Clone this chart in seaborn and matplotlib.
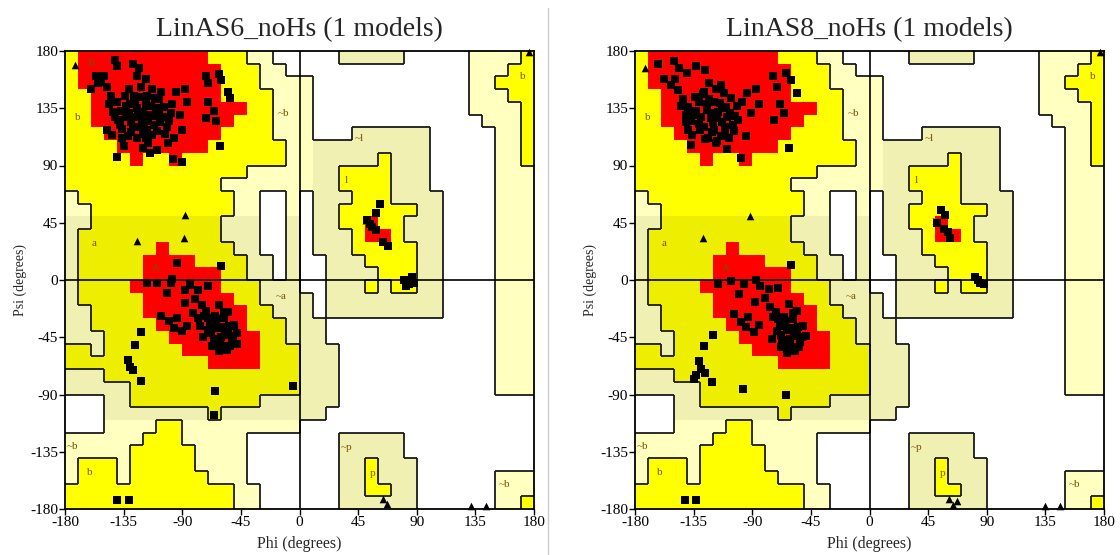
import numpy as np
import matplotlib
matplotlib.use("Agg")
import matplotlib.pyplot as plt
import seaborn as sns
from matplotlib.colors import ListedColormap
from matplotlib.collections import LineCollection
from matplotlib.lines import Line2D

sns.set_style("white")
plt.rcParams["font.family"] = ["Liberation Serif", "DejaVu Serif"]
plt.rcParams["axes.unicode_minus"] = False

titles = ["LinAS6_noHs (1 models)", "LinAS8_noHs (1 models)"]
ticks = [-180, -135, -90, -45, 0, 45, 90, 135, 180]

# region map in 10 degree cells: rows run from psi=180 down, columns from phi=-180
# . disallowed, p/P generous, y/Y allowed, r core (upper case = darker tint)
region_rows = [
    "yrrrrrrrrrryyypp.." "...PPPPP.....ppppy",
    "yrrrrrrrrrrryyypp." ".............pppyy",
    "yrrrrrrrrrrryyyppp" "p............ppyyy",
    "yyrrrrrrrrrryyyypp" "p............pppyy",
    "yyrrrrrrrrrrrryypp" "p............ppppy",
    "yyrrrrrrrrrrryyypp" "p.............pppy",
    "yyyrrrrrrrrryyyypp" "p...PPPPPP.....ppy",
    "yyyyrrrrrrryyyyyyp" "pPPPPPPPPP.....ppy",
    "yyyyyryyryyyyyyyyp" "pPPPPPyPPP.....ppy",
    "yyyyyyyyyyyyyypppp" "pPPyyyyPPP.....ppp",
    "yyyyyyyyyyyypppppp" "pPPyyyyPPP.....ppp",
    "pyyyyyyyyyyyypp..p" ".PPPyyyPPPP....ppp",
    "ppyyyyyyyyyyypp..p" ".PPyyyyyyPP....ppp",
    "PPYYYYYYYYYYPPP..P" ".PPyyryyPPP....ppp",
    "PYYYYYYYYYYYPPP..P" ".PPPyrryPPP....ppp",
    "PYYYYYYrYYYYYPP..P" ".PPPyyyyyPP....ppp",
    "PYYYYYrrrrYYYYPP.P" "..PPPyyyyPP....ppp",
    "PYYYYYrrrrrrYYPP.P" "..PPPPyyyPP....ppp",
    "PYYYYrrrrrrrYYYPPP" "..PPPyPyyPP....ppp",
    "PYYYYYrrrrrrrYYPPP" "P.PPPPPPPPP....ppp",
    "PPYYYYrrrrrrrrYYPP" "P.PPPPPPPPP....ppp",
    "PPYYYYYrrrrrrrYYYP" "PP.............ppp",
    "PPPYYYYYrrrrrrrYYP" "PP.............ppp",
    "YYPYYYYYYrrrrrrYYY" "PPP............ppp",
    "YYYYYYYYYYYrrrrYYY" "PPP............ppp",
    "PPPYYYYYYYYYYYYYYY" "PPP............ppp",
    "PPPPPYYYYYYYYYYYYY" "PPP............ppp",
    "...PPYYYYYYYYYYPPP" "PPP...............",
    "...PPPPPPPPYPPPPPP" "PP................",
    "...ppppyyppppppppp" "..................",
    "ppppppyyyppppp...." "...PPPPP..........",
    "pppppyyyyypppp...." "...PPPPP..........",
    "pyyypyyyyypppp...." "...PPyPPP.........",
    "pyyypyyyyyyppp...." "...PPyPPP......ppp",
    "yyyyyyyyyyyyypp..." "...PPyyPP......ppp",
    "yyyyyyyyyyyyypp..." "...PPPPPP......ppy",
]
region_colors = ["#FFFFFF", "#FFFFC0", "#F0F0B2", "#FFFF00", "#EEEE00", "#FF0000"]
region_codes = ".pPyYr"
region_level = [0, 1, 1, 2, 2, 3]

# region letters: text, phi, psi
label_text = ["B", "b", "~b", "A", "a", "~a", "L", "l", "~l", "~p", "p", "~b", "b", "~b", "b"]
label_phi = [-160, -170, -12, -110, -158, -14, 50, 36, 46, 36, 56, -174, -161, 157, 171]
label_psi = [170, 128, 131, 9, 29, -13, 45, 78, 111, -132, -152, -131, -151, -161, 160]

# residues (squares) and glycines (triangles), panel 1
phi1 = [-142, -140, -128, -123, -156, -152, -148, -160, -145, -140, -137, -133, -130, -127,
        -124, -121, -118, -115, -112, -110, -108, -105, -128, -125, -120, -116, -132, -138,
        -142, -117, -113, -122, -100, -98, -95, -92, -90, -96, -103, -135, -140, -109, -97,
        -90, -72, -70, -62, -60, -55, -53, -70, -66, -72, -64, -88, -86, -61, -150, -155,
        -148, -125, -118,
        -146, -143, -139, -136, -134, -131, -129, -126, -123, -120, -119, -116, -114, -111,
        -109, -107, -104, -102, -99, -133, -127, -122, -118, -113, -111, -106, -131, -136,
        -144, -120, -115, -101, -125, -117, -108, -129,
        -117, -109, -99, -84, -102, -88, -80, -75, -72, -70, -66, -62, -68, -60, -55, -52,
        -57, -63, -50, -48, -65, -58, -106, -100, -94, -96, -90, -86, -122, -126, -132,
        -130, -128, -122, -65, -66, -5, -94, -60, -98, -88, -78, -70, -62, -55,
        -69, -64, -60, -57, -61, -66, -70, -54, -51, -56, -62, -67, -73, -58, -53, -48,
        -74, -78, -82, -76,
        62, 59, 52, 56, 59, 54, 64, 68, 80, 84, 88, 86, 82, -140, -131]
psi1 = [173, 168, 170, 167, 160, 156, 152, 150, 145, 140, 133, 128, 138, 145,
        132, 126, 138, 130, 122, 135, 142, 128, 120, 112, 115, 108, 113, 122,
        128, 145, 150, 152, 125, 138, 148, 130, 118, 112, 115, 105, 97, 102, 95,
        93, 160, 155, 162, 157, 148, 143, 140, 133, 127, 125, 150, 140, 105, 160, 155,
        118, 160, 158,
        138, 132, 126, 119, 145, 131, 124, 139, 144, 132, 121, 125, 137, 129,
        117, 124, 136, 120, 131, 137, 128, 120, 112, 114, 143, 148, 150, 112,
        114, 104, 100, 108, 135, 118, 131, 116,
        -2, -2, -2, -4, -10, -18, -15, -20, -24, -30, -35, -38, -42, -45, -40, -48,
        -52, -50, -35, -42, -28, -30, -28, -32, -30, -38, -40, -36, -41, -51, -63,
        -68, -71, -79, -87, -106, -83, 13, 11, 1, -8, -8, -5, -20, -25,
        -33, -31, -37, -43, -48, -46, -39, -36, -44, -55, -56, -52, -28, -25, -52, -50,
        -45, -30, -26, -36,
        60, 53, 47, 42, 39, 44, 30, 27, 0, -3, -2, 2, -5, -173, -173]
gly_phi1 = [-172, -125, -88, -89, 132, 143, 176, 64, 67]
gly_psi1 = [169, 31, 51, 33, -178, -178, 179, -172, -176]

# panel 2
phi2 = [-162, -150, -146, -140, -133, -126, -158, -152, -147, -143, -139, -135, -131, -128,
        -125, -122, -119, -116, -113, -110, -106, -103, -130, -126, -121, -117, -136, -141,
        -118, -114, -123, -101, -98, -94, -91, -95, -104, -137, -109, -99, -74, -71, -64,
        -60, -56, -69, -66, -73, -87, -85, -62, -149, -127, -120, -111, -108,
        -145, -141, -137, -133, -129, -125, -121, -117, -113, -109, -105, -134, -128, -123,
        -119, -115, -111, -107, -131, -124, -118, -112, -139, -102, -127, -114,
        -116, -106, -96, -84, -100, -88, -80, -76, -72, -70, -67, -63, -68, -61, -56, -53,
        -58, -64, -51, -49, -66, -59, -104, -99, -93, -95, -89, -85, -120, -127, -131,
        -129, -126, -121, -64, -97, -60, -87, -77, -70, -62, -56, -133, -135,
        -69, -65, -61, -58, -62, -67, -71, -55, -52, -57, -63, -68, -74, -59, -54, -75,
        55, 58, 52, 57, 60, 62, 81, 85, 88, 83, -142, -133]
psi2 = [170, 172, 167, 163, 168, 165, 158, 153, 149, 142, 136, 130, 140, 146,
        134, 127, 140, 132, 124, 136, 143, 129, 118, 111, 116, 109, 114, 124,
        150, 153, 155, 126, 140, 147, 131, 113, 117, 106, 103, 96, 160, 152, 163,
        157, 147, 138, 131, 126, 150, 138, 104, 158, 120, 124, 120, 112,
        137, 130, 125, 133, 128, 138, 131, 127, 135, 128, 122, 144, 120, 142,
        118, 139, 117, 131, 123, 112, 108, 147, 118, 137, 148, 113,
        -3, -1, -3, -5, -11, -17, -14, -21, -25, -31, -36, -39, -43, -46, -41, -49,
        -53, -51, -36, -44, -29, -31, -27, -33, -29, -37, -41, -35, -43, -52, -64,
        -70, -73, -80, -90, -86, 12, 0, -7, -6, -19, -24, -75, -78,
        -34, -32, -38, -44, -49, -47, -40, -37, -45, -56, -57, -53, -29, -26, -53, -46,
        55, 51, 45, 40, 38, 33, 2, -2, -3, 0, -173, -173]
gly_phi2 = [-172, -128, -92, 135, 146, 177, 61, 64, 67]
gly_psi2 = [167, 33, 50, -178, -178, 179, -172, -177, -174]


def region_grid():
    return np.array([[region_codes.index(c) for c in row] for row in region_rows])


def boundary_segments(grid, phi_edges, psi_edges):
    lev = np.array(region_level)[grid]
    segs = []
    nr, nc = lev.shape
    for r in range(nr):
        for c in range(nc - 1):
            a, b = lev[r, c], lev[r, c + 1]
            if a != b and min(a, b) <= 1:
                segs.append([(phi_edges[c + 1], psi_edges[r]), (phi_edges[c + 1], psi_edges[r + 1])])
    for r in range(nr - 1):
        for c in range(nc):
            a, b = lev[r, c], lev[r + 1, c]
            if a != b and min(a, b) <= 1:
                segs.append([(phi_edges[c], psi_edges[r + 1]), (phi_edges[c + 1], psi_edges[r + 1])])
    return segs


def draw_panel(ax, title, phi, psi, gphi, gpsi):
    grid = region_grid()
    phi_edges = np.linspace(-180, 180, grid.shape[1] + 1)
    psi_edges = np.linspace(180, -180, grid.shape[0] + 1)
    ax.pcolormesh(phi_edges, psi_edges, grid, cmap=ListedColormap(region_colors),
                  vmin=-0.5, vmax=len(region_colors) - 0.5, zorder=0)
    ax.add_collection(LineCollection(boundary_segments(grid, phi_edges, psi_edges),
                                     colors="#1a1a1a", linewidths=1.3, zorder=1))
    ax.axhline(0, color="black", lw=1.2, zorder=2)
    ax.axvline(0, color="black", lw=1.2, zorder=2)
    for t, x, y in zip(label_text, label_phi, label_psi):
        ax.text(x, y, t, fontsize=8, color="#7a5000", ha="center", va="center", zorder=3)
    sns.scatterplot(x=phi, y=psi, marker="s", s=27, color="black", linewidth=0,
                    ax=ax, zorder=4, clip_on=False)
    sns.scatterplot(x=gphi, y=gpsi, marker="^", s=30, color="black", linewidth=0,
                    ax=ax, zorder=4, clip_on=False)
    ax.set_xlim(-180, 180)
    ax.set_ylim(-180, 180)
    ax.set_xticks(ticks)
    ax.set_yticks(ticks)
    ax.tick_params(direction="out", length=4, width=1, labelsize=11, pad=1,
                   bottom=True, left=True, colors="black")
    for s in ax.spines.values():
        s.set_color("black")
        s.set_linewidth(1.3)
    ax.set_xlabel("Phi (degrees)", fontsize=11.5, labelpad=5)
    ax.set_ylabel("Psi (degrees)", fontsize=10, labelpad=2)
    ax.set_title(title, fontsize=20, pad=11)


fig = plt.figure(figsize=(11.2, 5.55), dpi=100)
ax1 = fig.add_axes([65 / 1120, 46 / 555, 469 / 1120, 458 / 555])
ax2 = fig.add_axes([635 / 1120, 46 / 555, 469 / 1120, 458 / 555])
draw_panel(ax1, titles[0], phi1, psi1, gly_phi1, gly_psi1)
draw_panel(ax2, titles[1], phi2, psi2, gly_phi2, gly_psi2)
fig.add_artist(Line2D([548 / 1120, 548 / 1120], [0, 0.985], color="#cccccc", lw=1))
fig.savefig("out.png", dpi=100)
